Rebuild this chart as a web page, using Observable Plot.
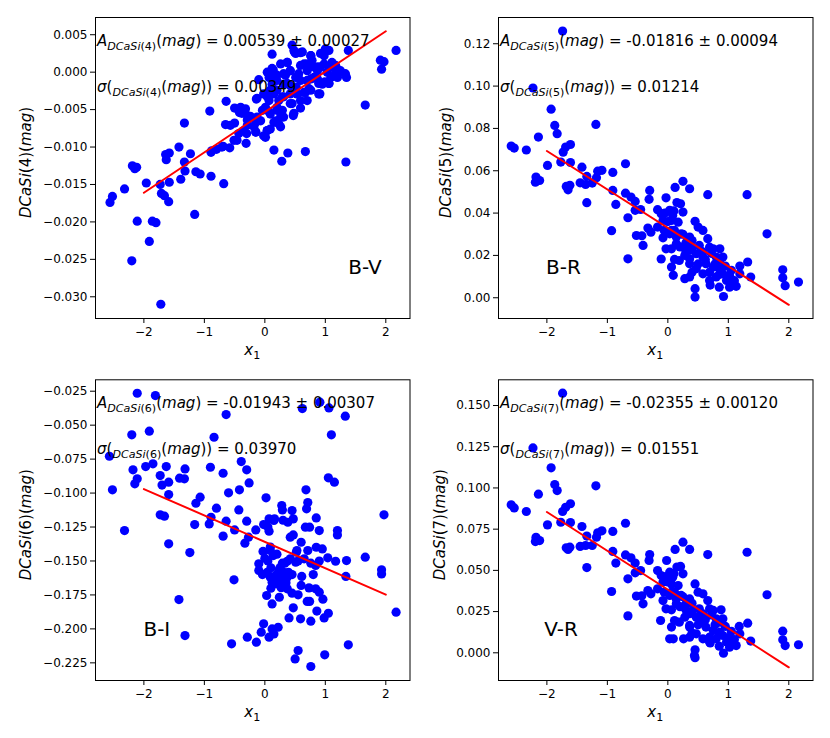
<!DOCTYPE html>
<html><head><meta charset="utf-8">
<script src="https://cdn.jsdelivr.net/npm/d3@7"></script>
<script src="https://cdn.jsdelivr.net/npm/@observablehq/plot@0.6"></script>
<style>
body{margin:0;background:#fff;}
#wrap{position:relative;width:830px;height:738px;background:#fff;}
#wrap svg{position:absolute;overflow:visible;}
</style></head><body><div id="wrap"></div>
<script>
// ---------- data (x1 and DCaSi values) ----------
const x_BV = [-2.56,-2.52,-2.32,-2.11,-2.19,-2.12,-2.15,-2.20,-1.91,-1.96,
 -1.86,-1.80,-1.72,-1.73,-1.71,-1.66,-1.59,-1.58,-1.64,-1.58,
 -1.63,-1.42,-1.33,-1.33,-1.32,-1.39,-1.23,-1.16,-1.14,-1.07,
 -0.91,-0.89,-0.89,-0.80,-0.68,-0.69,-0.65,-0.64,-0.58,-0.57,
 -0.50,-0.51,-0.50,-0.40,-0.42,-0.38,-0.43,-0.31,-0.30,-0.29,
 -0.24,-0.15,-0.14,-0.10,-0.07,-0.02,-0.04,0.01,0.04,0.09,
 0.07,0.09,0.12,0.11,0.14,0.04,0.12,0.15,0.20,0.18,
 0.23,0.26,0.28,0.31,0.29,0.31,0.37,0.38,0.42,0.45,
 0.48,0.49,0.59,0.47,0.45,0.42,0.53,0.59,0.56,0.65,
 0.67,0.70,0.73,0.76,0.76,0.81,0.87,0.91,0.92,0.98,
 1.02,0.99,1.06,1.09,1.11,1.17,1.20,1.20,1.33,1.35,
 1.34,1.38,1.66,1.91,1.97,1.93,2.17,0.59,0.70,0.20,
 0.34,0.51,0.42,-0.02,0.23,0.29,-0.13,-0.18,0.09,0.01,
 -0.29,-0.46,-0.71,-0.88,0.52,0.20,0.65,0.87,0.95,1.03,
 0.51,0.62,0.76,0.92,1.00,1.06,0.12,0.26,0.37,0.42,
 0.59,0.70,0.78,0.87,0.98,1.09,1.17,1.25,1.33,0.07,
 0.20,0.31,0.37,0.70,0.81,0.89,1.06,0.67,0.76,0.89,
 0.15,0.04,-0.13,0.31,0.42,0.59,0.20,0.07,-0.32,-0.29,
 0.26,0.15,-0.15,0.48,-0.35,-0.15,0.04];
const y_BV = [-0.0174,-0.0166,-0.0156,-0.0199,-0.0125,-0.0127,-0.0129,-0.0252,-0.0226,-0.0148,
 -0.0199,-0.0201,-0.0310,-0.0150,-0.0162,-0.0165,-0.0173,-0.0147,-0.0110,-0.0108,
 -0.0117,-0.0100,-0.0068,-0.0120,-0.0132,-0.0143,-0.0109,-0.0190,-0.0133,-0.0136,
 -0.0052,-0.0139,-0.0107,-0.0103,-0.0149,-0.0099,-0.0070,-0.0039,-0.0101,-0.0071,
 -0.0068,-0.0091,-0.0048,-0.0047,-0.0054,-0.0055,-0.0082,-0.0095,-0.0082,-0.0064,
 -0.0059,-0.0080,-0.0036,-0.0010,-0.0065,-0.0085,-0.0051,-0.0047,-0.0078,-0.0076,
 -0.0038,-0.0024,-0.0016,-0.0004,0.0003,0.0000,0.0024,-0.0104,-0.0051,-0.0065,
 -0.0069,-0.0073,-0.0119,-0.0060,-0.0033,-0.0016,0.0013,-0.0108,0.0002,0.0036,
 0.0029,0.0027,0.0026,-0.0058,-0.0042,-0.0029,-0.0029,-0.0048,-0.0002,0.0011,
 -0.0106,-0.0038,-0.0022,0.0022,-0.0009,0.0007,-0.0009,-0.0029,0.0007,0.0022,
 0.0029,-0.0013,-0.0015,-0.0007,0.0013,0.0009,0.0004,-0.0007,-0.0003,-0.0007,
 -0.0120,0.0029,-0.0044,0.0016,0.0014,0.0004,0.0029,-0.0011,0.0002,-0.0004,
 -0.0004,-0.0007,-0.0018,-0.0029,-0.0038,-0.0051,-0.0060,-0.0073,-0.0056,-0.0087,
 -0.0071,-0.0091,-0.0100,-0.0105,-0.0020,-0.0024,-0.0027,0.0002,-0.0016,0.0000,
 0.0025,0.0027,0.0022,0.0025,0.0031,0.0029,0.0005,0.0011,0.0013,0.0002,
 0.0009,0.0011,0.0016,0.0007,0.0011,0.0007,0.0000,0.0002,-0.0002,-0.0007,
 -0.0011,-0.0002,-0.0015,-0.0011,-0.0007,-0.0015,-0.0015,-0.0027,-0.0024,-0.0029,
 -0.0029,-0.0033,-0.0035,-0.0033,-0.0042,-0.0038,-0.0047,-0.0053,-0.0049,-0.0058,
 -0.0060,-0.0067,-0.0067,-0.0055,-0.0078,-0.0080,-0.0078];

const x_BR = [-1.74,-2.23,-1.93,-1.87,-1.83,-1.19,-2.14,-2.59,-2.54,-2.34,
 -1.61,-1.69,-1.73,-1.99,-1.77,-1.61,-2.18,-2.19,-2.12,-1.68,
 -1.62,-1.65,-1.42,-1.34,-1.45,-1.36,-1.25,-1.16,-1.09,-1.18,
 -1.34,-0.91,-0.70,-0.91,-0.86,-0.70,-0.61,-0.54,-0.54,-0.45,
 -0.66,-0.93,-0.52,-0.43,-0.41,-0.66,-0.30,-0.31,-0.17,-0.03,
 0.12,0.25,0.36,0.21,0.66,1.31,1.64,-0.11,0.03,0.08,
 -0.08,0.06,0.17,0.25,-0.33,-0.28,-0.17,-0.06,0.03,-0.08,
 0.11,0.22,-0.03,0.06,0.14,-0.11,0.06,0.09,0.11,0.19,
 0.28,0.36,0.28,0.36,0.45,0.50,0.58,0.66,0.36,0.41,
 0.52,0.36,0.47,0.58,0.69,0.75,0.86,0.80,0.86,0.91,
 0.63,0.75,0.86,0.47,0.58,0.69,0.69,0.80,0.91,1.02,
 0.97,1.08,1.13,1.02,0.92,0.45,0.45,1.19,1.19,1.32,
 1.37,1.90,1.90,1.94,2.16,0.06,0.14,0.30,0.36,0.58,
 0.30,0.40,0.55,0.62,0.72,0.78,0.85,0.95,1.05,0.50,
 0.40,0.20,0.00,0.10,-0.05,0.15,0.25,0.70,0.85,1.10];
const y_BR = [0.1260,0.0991,0.0891,0.0814,0.0775,0.0819,0.0759,0.0717,0.0707,0.0698,
 0.0724,0.0712,0.0688,0.0625,0.0641,0.0639,0.0570,0.0546,0.0554,0.0526,
 0.0531,0.0510,0.0617,0.0573,0.0543,0.0535,0.0542,0.0598,0.0602,0.0567,
 0.0449,0.0592,0.0633,0.0507,0.0441,0.0494,0.0476,0.0455,0.0413,0.0417,
 0.0378,0.0317,0.0294,0.0293,0.0247,0.0184,0.0507,0.0465,0.0416,0.0472,
 0.0521,0.0550,0.0515,0.0444,0.0487,0.0487,0.0302,0.0397,0.0413,0.0389,
 0.0365,0.0365,0.0357,0.0405,0.0329,0.0310,0.0334,0.0318,0.0302,0.0283,
 0.0318,0.0302,0.0231,0.0231,0.0255,0.0183,0.0145,0.0106,0.0181,0.0176,
 0.0200,0.0161,0.0090,0.0098,0.0361,0.0334,0.0318,0.0279,0.0287,0.0239,
 0.0247,0.0224,0.0208,0.0192,0.0239,0.0231,0.0231,0.0192,0.0176,0.0192,
 0.0161,0.0145,0.0137,0.0137,0.0113,0.0121,0.0082,0.0098,0.0113,0.0106,
 0.0082,0.0082,0.0054,0.0050,0.0006,0.0043,0.0003,0.0113,0.0150,0.0169,
 0.0098,0.0132,0.0094,0.0057,0.0074,0.0318,0.0287,0.0260,0.0184,0.0216,
 0.0220,0.0270,0.0220,0.0180,0.0210,0.0160,0.0110,0.0150,0.0130,0.0160,
 0.0120,0.0240,0.0360,0.0410,0.0400,0.0450,0.0300,0.0060,0.0050,0.0080];

const x_BI = [-2.11,-1.81,-0.64,-2.20,-1.91,-0.84,-2.57,-2.52,-1.97,-1.85,
 -2.18,-2.11,-2.15,-1.73,-1.63,-1.70,-1.59,-1.59,-1.41,-1.32,
 -1.33,-2.32,-1.73,-1.66,-1.59,-1.24,-1.42,-1.32,-1.16,-1.14,
 -1.07,-0.90,-0.69,-0.92,-0.89,-0.80,-0.60,-0.42,-0.39,-0.30,
 -0.26,-0.43,-0.69,-0.64,-0.50,-0.30,-0.15,-0.33,-0.27,-0.51,
 -0.55,-0.29,-0.14,-0.06,-0.02,0.07,0.12,0.22,0.15,0.02,
 -0.02,0.07,0.15,0.07,0.16,-0.03,0.09,0.14,-0.10,-0.10,
 -0.04,0.04,0.09,0.18,0.12,0.20,0.29,0.37,0.39,0.29,
 0.37,0.27,0.03,0.12,0.24,0.37,0.45,0.55,0.47,0.40,
 0.59,0.76,0.55,0.50,0.76,0.99,1.38,0.86,0.98,1.05,
 0.70,0.74,0.73,0.84,0.90,0.96,0.61,0.76,0.84,0.65,
 0.52,0.42,0.60,0.71,0.85,0.95,1.04,1.17,1.35,1.34,
 1.66,1.93,1.93,2.17,1.97,1.20,1.20,0.90,0.85,0.67,
 0.74,0.47,0.42,0.38,0.47,0.28,0.29,0.45,0.69,0.71,
 0.68,1.05,1.15,1.10,1.33,1.06,0.62,0.91,0.09,0.33,
 0.51,0.53,0.23,0.31,0.05,0.10,0.20,0.25,0.30,0.15,
 0.00,0.35,0.10,0.45,0.55,0.60,0.80,0.20,0.05,0.30,
 0.90];
const y_BI = [-0.0265,-0.0282,-0.0422,-0.0571,-0.0544,-0.0589,-0.0729,-0.0976,-0.0805,-0.0785,
 -0.0829,-0.0895,-0.0932,-0.0871,-0.0805,-0.0941,-0.0920,-0.1011,-0.0890,-0.0822,
 -0.0895,-0.1276,-0.1160,-0.1170,-0.1374,-0.1438,-0.1784,-0.2049,-0.1232,-0.1075,
 -0.1030,-0.0810,-0.0854,-0.1227,-0.1178,-0.1111,-0.0998,-0.0976,-0.0768,-0.0829,
 -0.0925,-0.1124,-0.1317,-0.1207,-0.1271,-0.1207,-0.1271,-0.1369,-0.1325,-0.1639,
 -0.2110,-0.2061,-0.2098,-0.2024,-0.1963,-0.2061,-0.2000,-0.1988,-0.2037,-0.1035,
 -0.1232,-0.1190,-0.1202,-0.1281,-0.1190,-0.1430,-0.1423,-0.1460,-0.1521,-0.1570,
 -0.1600,-0.1583,-0.1619,-0.1607,-0.1656,-0.1668,-0.1516,-0.1502,-0.1583,-0.1632,
 -0.1619,-0.1697,-0.1754,-0.1816,-0.1767,-0.1705,-0.1737,-0.1749,-0.1845,-0.1919,
 -0.1926,-0.1943,-0.2159,-0.2221,-0.2277,-0.2191,-0.2117,-0.1869,-0.1919,-0.1885,
 -0.1798,-0.1798,-0.1698,-0.1705,-0.1730,-0.1781,-0.1614,-0.1516,-0.1533,-0.1484,
 -0.1435,-0.1484,-0.1362,-0.1423,-0.1399,-0.1411,-0.1477,-0.1502,-0.1497,-0.1614,
 -0.1472,-0.1565,-0.1595,-0.1877,-0.1160,-0.1276,-0.1308,-0.1276,-0.1183,-0.1251,
 -0.1251,-0.1308,-0.1325,-0.1215,-0.1190,-0.1092,-0.1124,-0.1129,-0.1116,-0.1070,
 -0.0976,-0.0888,-0.0920,-0.0571,-0.0434,-0.0373,-0.0378,-0.0331,-0.1398,-0.1516,
 -0.1509,-0.1423,-0.1570,-0.1644,-0.1500,-0.1550,-0.1600,-0.1550,-0.1580,-0.1650,
 -0.1480,-0.1660,-0.1700,-0.1600,-0.1500,-0.1680,-0.1600,-0.1450,-0.1250,-0.1200,
 -0.1500];

const x_VR = [-1.74,-2.23,-1.93,-1.87,-1.83,-1.19,-2.14,-2.59,-2.54,-2.34,
 -1.61,-1.69,-1.74,-1.99,-1.77,-1.61,-2.18,-2.19,-2.12,-1.68,
 -1.62,-1.65,-1.42,-1.34,-1.45,-1.36,-1.25,-1.16,-1.09,-1.18,
 -1.34,-0.91,-0.70,-0.91,-0.86,-0.70,-0.61,-0.54,-0.54,-0.45,
 -0.66,-0.93,-0.52,-0.43,-0.41,-0.66,-0.30,-0.31,-0.17,-0.02,
 0.12,0.25,0.36,0.21,0.66,1.31,1.64,-0.11,0.03,0.08,
 -0.08,0.06,0.17,0.25,-0.33,-0.28,-0.17,-0.06,0.03,-0.08,
 0.11,0.22,-0.03,0.06,0.14,-0.12,0.06,0.09,0.11,0.19,
 0.28,0.36,0.26,0.36,0.45,0.50,0.58,0.66,0.36,0.41,
 0.52,0.36,0.47,0.58,0.69,0.75,0.88,0.80,0.86,0.91,
 0.63,0.75,0.86,0.47,0.58,0.69,0.69,0.80,0.91,1.02,
 0.97,1.08,1.13,1.02,0.92,0.45,0.45,1.19,1.18,1.32,
 1.37,1.90,1.90,1.94,2.16,0.06,0.14,0.30,0.36,0.58,
 0.03,0.44,0.30,0.40,0.55,0.62,0.72,0.78,0.85,0.95,
 1.05,0.50,0.40,0.20,0.00,0.10,-0.05,0.15,0.25,0.70,
 0.85,1.10];
const y_VR = [0.1575,0.1243,0.1122,0.1021,0.0984,0.1013,0.0962,0.0898,0.0879,0.0857,
 0.0904,0.0883,0.0857,0.0776,0.0792,0.0790,0.0701,0.0675,0.0681,0.0637,
 0.0641,0.0627,0.0766,0.0708,0.0645,0.0651,0.0651,0.0728,0.0740,0.0701,
 0.0517,0.0736,0.0786,0.0615,0.0544,0.0594,0.0576,0.0544,0.0485,0.0499,
 0.0449,0.0372,0.0344,0.0346,0.0297,0.0224,0.0596,0.0560,0.0499,0.0560,
 0.0627,0.0671,0.0627,0.0524,0.0596,0.0610,0.0352,0.0469,0.0489,0.0459,
 0.0429,0.0418,0.0408,0.0479,0.0378,0.0358,0.0388,0.0368,0.0348,0.0317,
 0.0368,0.0348,0.0267,0.0261,0.0297,0.0196,0.0156,0.0085,0.0196,0.0186,
 0.0216,0.0166,0.0085,0.0095,0.0418,0.0368,0.0358,0.0317,0.0327,0.0257,
 0.0267,0.0237,0.0216,0.0196,0.0267,0.0257,0.0261,0.0206,0.0186,0.0206,
 0.0156,0.0135,0.0125,0.0115,0.0085,0.0095,0.0065,0.0085,0.0105,0.0095,
 0.0065,0.0055,0.0044,0.0034,-0.0002,0.0018,-0.0030,0.0115,0.0160,0.0180,
 0.0071,0.0131,0.0079,0.0044,0.0049,0.0368,0.0327,0.0297,0.0156,0.0237,
 0.0085,-0.0016,0.0260,0.0300,0.0240,0.0200,0.0230,0.0170,0.0120,0.0160,
 0.0130,0.0170,0.0120,0.0280,0.0430,0.0480,0.0460,0.0520,0.0340,0.0060,
 0.0040,0.0080];

// fitted lines (slope A from the annotations, intercept)
const fitSlopes = [0.00539, -0.01816, -0.01943, -0.02355];
const fitIntercepts = [-0.00532, 0.0330, -0.1359, 0.0383];
const fitXRange = [-2, 2];

const xTicks = [-2, -1, 0, 1, 2];
const yTicks_BV = [-0.030, -0.025, -0.020, -0.015, -0.010, -0.005, 0.000, 0.005];
const yTicks_BR = [0.00, 0.02, 0.04, 0.06, 0.08, 0.10, 0.12];
const yTicks_BI = [-0.225, -0.200, -0.175, -0.150, -0.125, -0.100, -0.075, -0.050, -0.025];
const yTicks_VR = [0.000, 0.025, 0.050, 0.075, 0.100, 0.125, 0.150];

const bandNames = ["B-V", "B-R", "B-I", "V-R"];
const indexNames = ["4", "5", "6", "7"];
const ampTexts = ["0.00539 ± 0.00027", "-0.01816 ± 0.00094", "-0.01943 ± 0.00307", "-0.02355 ± 0.00120"];
const sigmaTexts = ["0.00349", "0.01214", "0.03970", "0.01551"];

// ---------- layout ----------
const FONT = "DejaVu Sans";
const panels = [
  {xs:x_BV, ys:y_BV, left:0,   top:0,   w:415, h:369, ml:95, mr:5.5,  mt:17,   mb:51, yDomain:[-0.0329,0.0073], yTicks:yTicks_BV, fmt:".3f", ylx:31, nameFrac:0.805},
  {xs:x_BR, ys:y_BR, left:415, top:0,   w:415, h:369, ml:83, mr:17.5, mt:17,   mb:51, yDomain:[-0.0098,0.1324], yTicks:yTicks_BR, fmt:".2f", ylx:36, nameFrac:0.153},
  {xs:x_BI, ys:y_BI, left:0,   top:369, w:415, h:369, ml:95, mr:5.5,  mt:10.3, mb:58, yDomain:[-0.2380,-0.0166], yTicks:yTicks_BI, fmt:".3f", ylx:31, nameFrac:0.154},
  {xs:x_VR, ys:y_VR, left:415, top:369, w:415, h:369, ml:83, mr:17.5, mt:10.3, mb:58, yDomain:[-0.0168,0.1656], yTicks:yTicks_VR, fmt:".3f", ylx:30, nameFrac:0.147}
];

function mathText(g, x, y, segments, size, anchor, rotate) {
  const t = g.append("text")
    .attr("x", x).attr("y", y)
    .attr("font-size", size)
    .attr("fill", "black")
    .attr("text-anchor", anchor || "start")
    .style("white-space", "pre");
  if (rotate) t.attr("transform", `rotate(${rotate},${x},${y})`);
  let curSub = false;
  for (const [str, sub] of segments) {
    const runs = str.match(/[A-Za-zσ]+|[^A-Za-zσ]+/g) || [];
    runs.forEach((run, i) => {
      const ts = t.append("tspan").text(run)
        .attr("font-style", /[A-Za-zσ]/.test(run) ? "italic" : "normal")
        .attr("font-size", sub ? size * 0.74 : size);
      if (i === 0 && sub !== curSub) { ts.attr("dy", sub ? size * 0.27 : -size * 0.27); curSub = sub; }
    });
  }
  return t;
}

const wrap = document.getElementById("wrap");
panels.forEach((p, k) => {
  const data = p.xs.map((x, i) => ({x, y: p.ys[i]}));
  const fit = fitXRange.map(x => ({x, y: fitIntercepts[k] + fitSlopes[k] * x}));
  const svg = Plot.plot({
    width: p.w, height: p.h,
    marginLeft: p.ml, marginRight: p.mr, marginTop: p.mt, marginBottom: p.mb,
    style: {fontFamily: FONT, fontSize: "12px", color: "black", background: "white", overflow: "visible"},
    x: {domain: [-2.80, 2.40]},
    y: {domain: p.yDomain},
    marks: [
      Plot.axisX({ticks: xTicks, tickFormat: d3.format("d"), tickSize: 5, tickPadding: 4, label: null}),
      Plot.axisY({ticks: p.yTicks, tickFormat: d3.format(p.fmt), tickSize: 5, tickPadding: 3, label: null}),
      Plot.dot(data, {x: "x", y: "y", r: 4.6, fill: "#0000ff", stroke: "none"}),
      Plot.line(fit, {x: "x", y: "y", stroke: "#ff0000", strokeWidth: 2}),
      Plot.frame({stroke: "black", strokeWidth: 1})
    ]
  });
  svg.style.left = p.left + "px";
  svg.style.top = p.top + "px";
  wrap.appendChild(svg);

  const fw = p.w - p.ml - p.mr, fh = p.h - p.mt - p.mb;
  const g = d3.select(svg).append("g").attr("font-family", FONT);
  const sub = "DCaSi(" + indexNames[k] + ")";
  // annotations
  mathText(g, p.ml + 2, p.mt + 29, [["A", false], [sub, true], ["(mag) = " + ampTexts[k], false]], 15);
  mathText(g, p.ml + 2, p.mt + 74.5, [["σ(", false], [sub, true], ["(mag)) = " + sigmaTexts[k], false]], 15);
  // band name
  g.append("text").attr("x", p.ml + p.nameFrac * fw).attr("y", p.mt + fh - 0.147 * fh)
    .attr("text-anchor", "start")
    .attr("font-size", 20).attr("fill", "black").text(bandNames[k]);
  // y label
  mathText(g, p.ylx, p.mt + fh / 2 - 5, [["DCaSi(" + indexNames[k] + ")(mag)", false]], 15, "middle", -90);
  // x label
  mathText(g, p.ml + fw / 2, p.mt + fh + 37, [["x", false], ["1", true]], 15, "middle");
});
</script></body></html>
